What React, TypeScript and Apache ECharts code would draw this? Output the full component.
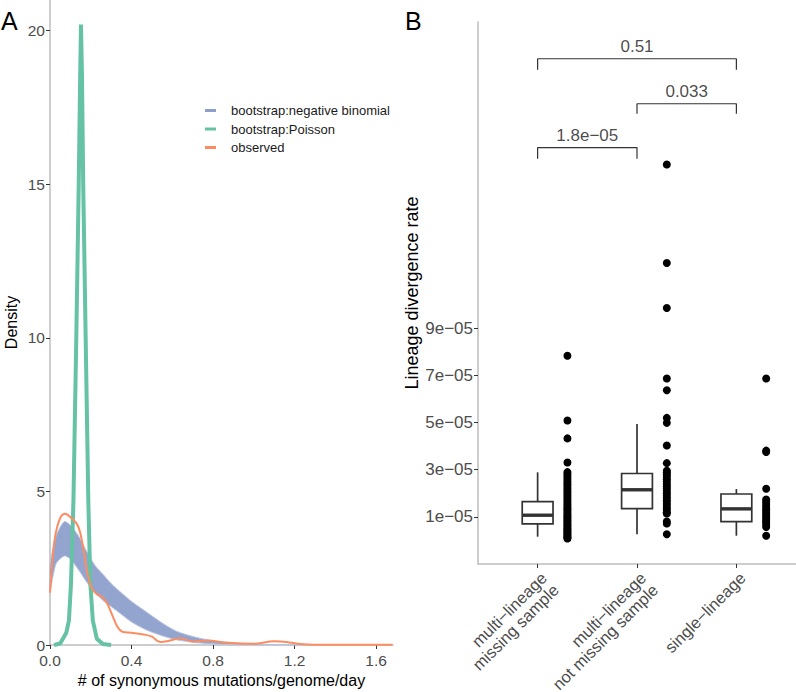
import React, { useEffect, useRef } from "react";
import * as echarts from "echarts";

// ---------- Panel A: density curves ----------
const nbX = [0, 0.03, 0.07, 0.1, 0.14, 0.18, 0.22, 0.26, 0.3, 0.35, 0.4, 0.47, 0.55, 0.62, 0.7, 0.78, 0.85, 0.95, 1.05, 1.15, 1.25];
const nbUpper = [2.6, 3.55, 4.02, 3.9, 3.55, 3.05, 2.6, 2.3, 2.0, 1.7, 1.42, 1.09, 0.72, 0.45, 0.28, 0.16, 0.1, 0.05, 0.02, 0.01, 0];
const nbLower = [1.75, 2.65, 2.9, 2.8, 2.45, 2.05, 1.72, 1.45, 1.25, 1.0, 0.75, 0.5, 0.3, 0.17, 0.09, 0.04, 0.02, 0.01, 0, 0, 0];

const poisX = [0.02, 0.05, 0.08, 0.093, 0.103, 0.115, 0.129, 0.141, 0.148, 0.152, 0.157, 0.163, 0.175, 0.188, 0.198, 0.21, 0.23, 0.26, 0.3];
const poisY = [0, 0.05, 0.4, 0.8, 2, 4.7, 10, 15, 18.5, 20.2, 18.5, 15, 10, 4.7, 2, 0.8, 0.2, 0.03, 0];

const obsX = [0, 0.01, 0.025, 0.05, 0.075, 0.105, 0.13, 0.147, 0.165, 0.18, 0.205, 0.23, 0.255, 0.28, 0.305, 0.33, 0.355, 0.4, 0.47, 0.5, 0.54, 0.58, 0.64, 0.7, 0.77, 0.87, 1.0, 1.1, 1.16, 1.23, 1.3, 1.45, 1.6, 1.68];
const obsY = [1.7, 2.6, 3.53, 4.13, 4.27, 4.13, 3.96, 3.69, 3.09, 2.44, 1.85, 1.65, 1.57, 1.36, 0.98, 0.6, 0.43, 0.4, 0.33, 0.27, 0.1, 0.13, 0.22, 0.11, 0.15, 0.07, 0.04, 0.12, 0.1, 0.03, 0.01, 0.01, 0.01, 0.01];

const densityTicksX = [0, 0.4, 0.8, 1.2, 1.6];
const densityTicksY = [0, 5, 10, 15, 20];
const seriesNames = ["bootstrap:negative binomial", "bootstrap:Poisson", "observed"];

// ---------- Panel B: lineage divergence rate ----------
const categories = ["multi\u2212lineage\nmissing sample", "multi\u2212lineage\nnot missing sample", "single\u2212lineage"];
// box stats in units of 1e-05: [min, Q1, median, Q3, max]
const boxStats = [
  [0.16, 0.7, 1.07, 1.65, 2.89],
  [0.26, 1.35, 2.15, 2.84, 4.94],
  [0.2, 0.8, 1.34, 1.97, 2.18],
];
const pointsMissing = [7.84, 5.09, 4.33, 3.31, 2.9, 2.83, 2.74, 2.66, 2.57, 2.49, 2.41, 2.33, 2.24, 2.16, 2.08, 2.0, 1.92, 1.84, 1.76, 1.68, 1.6, 1.52, 1.45, 1.38, 1.31, 1.24, 1.17, 1.1, 1.04, 0.98, 0.92, 0.86, 0.8, 0.74, 0.68, 0.62, 0.56, 0.5, 0.45, 0.4, 0.35, 0.3, 0.25, 0.2, 0.15, 0.11, 0.08];
const pointsNotMissing = [15.95, 11.77, 9.86, 6.87, 6.37, 5.2, 4.99, 4.03, 3.28, 2.96, 2.88, 2.8, 2.7, 2.6, 2.5, 2.4, 2.3, 2.2, 2.1, 2.0, 1.9, 1.8, 1.7, 1.6, 1.5, 1.4, 1.3, 1.2, 1.14, 0.8, 0.72, 0.26];
const pointsSingle = [6.87, 3.81, 3.75, 2.19, 1.74, 1.64, 1.55, 1.45, 1.36, 1.27, 1.18, 1.09, 1.0, 0.92, 0.84, 0.76, 0.66, 0.57, 0.2];
const pointGroups = [pointsMissing, pointsNotMissing, pointsSingle];
const rateTicks = [1, 3, 5, 7, 9];

const bracketPairs = [[1, 3], [2, 3], [1, 2]];
const bracketTop = [20.44, 18.53, 16.67];
const bracketTip = [19.97, 18.11, 16.2];
const bracketLabels = ["0.51", "0.033", "1.8e\u221205"];

const E5 = 1e-5;
const FONT = "'Liberation Sans', Arial, Helvetica, sans-serif";
const COLORS = ["#8DA0CB", "#66C2A5", "#FC8D62"];

export default function App() {
  const ref = useRef<HTMLDivElement>(null);
  useEffect(() => {
    if (!ref.current) return;
    const chart = echarts.init(ref.current, undefined, { renderer: "svg" });

    const axisLine = { onZero: false, lineStyle: { color: "#bdbdbd", width: 1.5 } };
    const axisTick = { length: 4, lineStyle: { color: "#333", width: 1 } };
    const tickLabel = { color: "#4d4d4d", fontSize: 15.5, fontFamily: FONT };

    const bracketSeries = bracketPairs.map((p, i) => ({
      type: "line",
      xAxisIndex: 1,
      yAxisIndex: 1,
      symbol: "none",
      silent: true,
      lineStyle: { color: "#333", width: 1.2 },
      data: [
        [p[0], bracketTip[i] * E5],
        [p[0], bracketTop[i] * E5],
        [p[1], bracketTop[i] * E5],
        [p[1], bracketTip[i] * E5],
      ],
    }));

    const option: any = {
      animation: false,
      textStyle: { fontFamily: FONT },
      grid: [
        { left: 50, top: 0, width: 343, height: 645, containLabel: false, outerBoundsMode: "none" },
        { left: 478, top: 22, width: 318, height: 542, containLabel: false, outerBoundsMode: "none" },
      ],
      legend: {
        data: seriesNames,
        orient: "vertical",
        left: 200,
        top: 99,
        icon: "rect",
        itemWidth: 11,
        itemHeight: 3,
        itemGap: 5.5,
        textStyle: { fontSize: 13, color: "#1a1a1a", fontFamily: FONT, padding: [0, 0, 0, 10] },
      },
      xAxis: [
        {
          type: "value", gridIndex: 0, min: 0, max: 1.683,
          axisLine, axisTick: { ...axisTick, customValues: densityTicksX },
          axisLabel: { ...tickLabel, margin: 7, customValues: densityTicksX, formatter: (v: number) => v.toFixed(1) },
          splitLine: { show: false },
          name: "# of synonymous mutations/genome/day",
          nameLocation: "middle", nameGap: 27,
          nameTextStyle: { fontSize: 16, color: "#000", fontFamily: FONT },
        },
        {
          type: "value", gridIndex: 1, min: 0.4, max: 3.6,
          axisLine, axisTick: { ...axisTick, customValues: [1, 2, 3] },
          axisLabel: {
            ...tickLabel, fontSize: 16.5, lineHeight: 17, customValues: [1, 2, 3], rotate: 45, margin: 5,
            align: "right", verticalAlign: "top",
            formatter: (v: number) => categories[Math.round(v) - 1] ?? "",
          },
          splitLine: { show: false },
        },
      ],
      yAxis: [
        {
          type: "value", gridIndex: 0, min: 0, max: 21,
          axisLine: { show: true, ...axisLine }, axisTick: { show: true, ...axisTick, customValues: densityTicksY },
          axisLabel: { ...tickLabel, margin: 5, customValues: densityTicksY },
          splitLine: { show: false },
          name: "Density", nameLocation: "middle", nameGap: 31,
          nameTextStyle: { fontSize: 16, color: "#000", fontFamily: FONT },
        },
        {
          type: "value", gridIndex: 1, min: -1 * E5, max: 22 * E5,
          axisLine: { show: true, ...axisLine },
          axisTick: { show: true, ...axisTick, customValues: rateTicks.map((t) => t * E5) },
          axisLabel: {
            ...tickLabel, fontSize: 17, margin: 5, customValues: rateTicks.map((t) => t * E5),
            formatter: (v: number) => `${Math.round(v / E5)}e\u221205`,
          },
          splitLine: { show: false },
          name: "Lineage divergence rate", nameLocation: "middle", nameGap: 57,
          nameTextStyle: { fontSize: 18, color: "#000", fontFamily: FONT },
        },
      ],
      series: [
        {
          name: seriesNames[0],
          type: "custom",
          xAxisIndex: 0, yAxisIndex: 0,
          itemStyle: { color: COLORS[0] },
          data: [[0, 0]],
          renderItem: (_params: any, api: any) => {
            const pts: number[][] = [];
            for (let i = 0; i < nbX.length; i++) pts.push(api.coord([nbX[i], nbUpper[i]]));
            for (let i = nbX.length - 1; i >= 0; i--) pts.push(api.coord([nbX[i], nbLower[i]]));
            return {
              type: "polygon",
              shape: { points: pts, smooth: 0.25 },
              style: { fill: COLORS[0], opacity: 0.95, stroke: "#b9c4e0", lineWidth: 1 },
            };
          },
        },
        {
          name: seriesNames[1],
          type: "line",
          xAxisIndex: 0, yAxisIndex: 0,
          symbol: "none",
          color: COLORS[1],
          lineStyle: { width: 4, color: COLORS[1] },
          data: poisX.map((x, i) => [x, poisY[i]]),
        },
        {
          name: seriesNames[2],
          type: "line",
          xAxisIndex: 0, yAxisIndex: 0,
          symbol: "none",
          smooth: 0.35,
          color: COLORS[2],
          lineStyle: { width: 2, color: COLORS[2] },
          data: obsX.map((x, i) => [x, obsY[i]]),
        },
        {
          type: "custom",
          xAxisIndex: 1, yAxisIndex: 1,
          encode: { x: 0, y: [1, 2, 3, 4, 5] },
          data: boxStats.map((s, i) => [i + 1, ...s.map((v) => v * E5)]),
          renderItem: (_params: any, api: any) => {
            const x = api.value(0);
            const mn = api.value(1), q1 = api.value(2), md = api.value(3), q3 = api.value(4), mx = api.value(5);
            const half = 0.155;
            const c = (a: number, b: number) => api.coord([a, b]);
            const stroke = { stroke: "#333", lineWidth: 1.7 };
            const tl = c(x - half, q3), br = c(x + half, q1);
            const ml = c(x - half, md), mr = c(x + half, md);
            const top = c(x, mx), q3c = c(x, q3), q1c = c(x, q1), bot = c(x, mn);
            return {
              type: "group",
              children: [
                { type: "line", shape: { x1: top[0], y1: top[1], x2: q3c[0], y2: q3c[1] }, style: stroke },
                { type: "line", shape: { x1: q1c[0], y1: q1c[1], x2: bot[0], y2: bot[1] }, style: stroke },
                { type: "rect", shape: { x: tl[0], y: tl[1], width: br[0] - tl[0], height: br[1] - tl[1] }, style: { ...stroke, fill: "#fff" } },
                { type: "line", shape: { x1: ml[0], y1: ml[1], x2: mr[0], y2: mr[1] }, style: { stroke: "#333", lineWidth: 3.4 } },
              ],
            };
          },
        },
        {
          type: "scatter",
          xAxisIndex: 1, yAxisIndex: 1,
          symbolSize: 8,
          itemStyle: { color: "#000", opacity: 1 },
          data: pointGroups.flatMap((g, gi) => g.map((v) => [gi + 1 + 0.3, v * E5])),
        },
        ...bracketSeries,
        {
          type: "scatter",
          xAxisIndex: 1, yAxisIndex: 1,
          symbolSize: 0,
          silent: true,
          label: {
            show: true, position: "top", distance: 4,
            fontSize: 17, color: "#1a1a1a", fontFamily: FONT,
            formatter: (p: any) => bracketLabels[p.dataIndex],
          },
          data: bracketPairs.map((p, i) => [(p[0] + p[1]) / 2, bracketTop[i] * E5]),
        },
      ],
      graphic: [
        { type: "text", left: 1, top: 8, style: { text: "A", fontSize: 25, fill: "#000", fontFamily: FONT } },
        { type: "text", left: 405, top: 8, style: { text: "B", fontSize: 25, fill: "#000", fontFamily: FONT } },
      ],
    };
    chart.setOption(option);
    return () => chart.dispose();
  }, []);
  return (
    <div
      ref={ref}
      style={{ position: "fixed", left: 0, top: 0, width: 796, height: 692, background: "#fff" }}
    />
  );
}
